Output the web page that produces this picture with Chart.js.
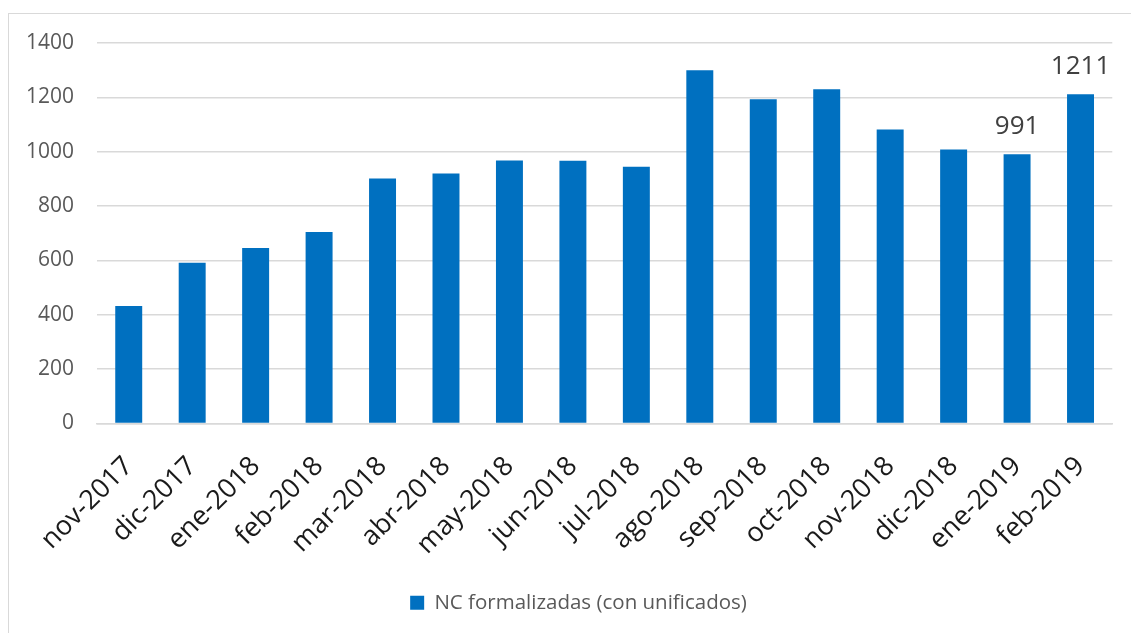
<!DOCTYPE html>
<html lang="es">
  <head>
    <meta charset="UTF-8" />
    <title>NC formalizadas (con unificados)</title>
    <script src="https://cdn.jsdelivr.net/npm/chart.js"></script>
    <style>
      html, body { margin: 0; padding: 0; background: #fff; overflow: hidden; }
      #wrap { position: relative; width: 1131px; height: 633px; }
      #frame {
        position: absolute; left: 8px; top: 13px; width: 1200px; height: 700px;
        border: 1.5px solid #d9d9d9; box-sizing: border-box;
      }
      #chart-container { position: absolute; left: 0; top: 0; width: 1131px; height: 633px; }
    </style>
  </head>
  <body>
    <div id="wrap">
      <div id="frame"></div>
      <div id="chart-container">
        <canvas id="ncChart"></canvas>
      </div>
    </div>

    <script>
      // datos
      const months = [
        "nov-2017", "dic-2017", "ene-2018", "feb-2018", "mar-2018", "abr-2018",
        "may-2018", "jun-2018", "jul-2018", "ago-2018", "sep-2018", "oct-2018",
        "nov-2018", "dic-2018", "ene-2019", "feb-2019",
      ];
      const ncValues = [
        432, 591, 646, 705, 901, 920, 968, 967, 945, 1300, 1193, 1230,
        1082, 1008, 991, 1211,
      ];
      const labeledMonths = ["ene-2019", "feb-2019"]; // sólo estas llevan etiqueta
      const yTicks = [0, 200, 400, 600, 800, 1000, 1200, 1400];

      const FONT = "'Open Sans', 'Noto Sans', sans-serif";

      // etiquetas de valor encima de las barras marcadas
      const valueLabels = {
        id: "valueLabels",
        afterDatasetsDraw(chart) {
          const c = chart.ctx;
          const meta = chart.getDatasetMeta(0);
          c.save();
          c.font = "26px " + FONT;
          c.fillStyle = "#404040";
          c.textAlign = "center";
          c.textBaseline = "alphabetic";
          months.forEach((m, i) => {
            if (!labeledMonths.includes(m)) return;
            const bar = meta.data[i];
            c.fillText(String(ncValues[i]), bar.x, bar.y - 20);
          });
          c.restore();
        },
      };

      // la leyenda va un poco a la derecha del centro
      const shiftLegend = {
        id: "shiftLegend",
        afterLayout(chart) {
          if (chart.legend) {
            chart.legend.left += 12;
            chart.legend.right += 12;
          }
        },
      };

      const ctx = document.getElementById("ncChart").getContext("2d");
      new Chart(ctx, {
        type: "bar",
        data: {
          labels: months,
          datasets: [
            {
              label: "NC formalizadas (con unificados)",
              data: ncValues,
              backgroundColor: "#0070C0",
              borderWidth: 0,
              categoryPercentage: 1,
              barPercentage: 0.425,
            },
          ],
        },
        options: {
          responsive: true,
          maintainAspectRatio: false,
          animation: false,
          layout: { padding: { left: 20, right: 18, top: 43, bottom: 10 } },
          plugins: {
            tooltip: { enabled: false },
            legend: {
              position: "bottom",
              labels: {
                boxWidth: 14,
                boxHeight: 14,
                padding: 10,
                color: "#595959",
                font: { family: FONT, size: 20.5 },
              },
            },
          },
          scales: {
            x: {
              grid: { display: false, drawTicks: false },
              border: { display: true, color: "#d9d9d9", width: 1.5 },
              ticks: {
                color: "#1a1a1a",
                font: { family: FONT, size: 27 },
                maxRotation: 45,
                minRotation: 45,
                padding: 27,
                autoSkip: false,
              },
              afterFit: (scale) => { scale.height = 159; },
            },
            y: {
              min: 0,
              max: 1400,
              afterBuildTicks: (scale) => {
                scale.ticks = yTicks.map((v) => ({ value: v }));
              },
              grid: { color: "#d9d9d9", lineWidth: 1.5, drawTicks: false },
              border: { display: false },
              ticks: {
                color: "#595959",
                font: { family: FONT, size: 21 },
                padding: 23,
                callback: (v) => String(v),
              },
              afterFit: (scale) => { scale.width = 77; },
            },
          },
        },
        plugins: [valueLabels, shiftLegend],
      });
    </script>
  </body>
</html>
